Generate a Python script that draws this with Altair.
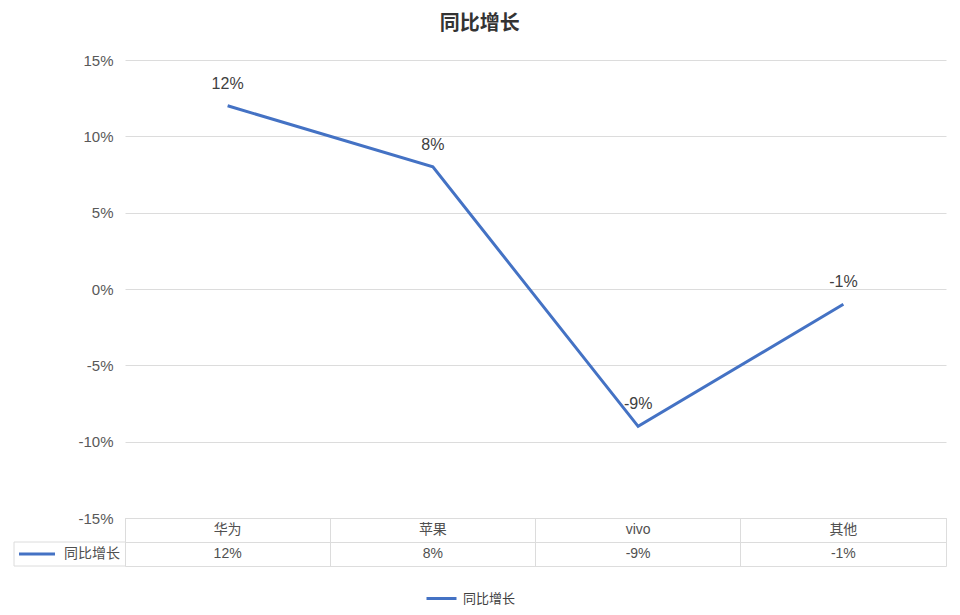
import altair as alt
import pandas as pd

categories = ["华为", "苹果", "vivo", "其他"]
values = [0.12, 0.08, -0.09, -0.01]
value_labels = ["12%", "8%", "-9%", "-1%"]
series_name = "同比增长"
y_ticks = [-0.15, -0.10, -0.05, 0.0, 0.05, 0.10, 0.15]

BLUE = "#4472c4"
FONT = "Liberation Sans, Noto Sans CJK SC"
GRID = "#dcdcdc"

df = pd.DataFrame({"cat": categories, "val": values, "lab": value_labels,
                   "series": [series_name] * len(categories)})

W = 821
base = alt.Chart(df).encode(
    x=alt.X("cat:N", sort=categories, axis=None),
    y=alt.Y("val:Q", scale=alt.Scale(domain=[-0.15, 0.15], nice=False),
            axis=alt.Axis(values=y_ticks, format=".0%", title=None, domain=False,
                          labelExpr="replace(datum.label, '\u2212', '-')",
                          ticks=False, labelFontSize=15, labelColor="#595959",
                          labelPadding=12, gridColor=GRID, labelFont=FONT)),
)
line = base.mark_line(strokeWidth=3).encode(
    color=alt.Color("series:N", scale=alt.Scale(range=[BLUE]),
                    legend=alt.Legend(title=None, orient="none", legendX=300, legendY=522,
                                      symbolType="stroke", symbolStrokeWidth=3,
                                      symbolSize=900, labelFontSize=13, labelFont=FONT,
                                      labelOffset=5, labelColor="#404040"))
)
labels = base.mark_text(dy=-22, fontSize=16, color="#404040", font=FONT).encode(text="lab:N")
top = (line + labels).properties(width=W, height=458,
                                 view=alt.ViewBackground(stroke="transparent"))

# data table
rows = []
for c, l in zip(categories, value_labels):
    rows.append({"cat": c, "row": "a", "txt": c})
    rows.append({"cat": c, "row": "b", "txt": l})
tdf = pd.DataFrame(rows)
tx = alt.X("cat:N", sort=categories, bandPosition=0.5,
           scale=alt.Scale(type="band", paddingInner=0, paddingOuter=0),
           axis=alt.Axis(labels=False, ticks=False, domain=False, grid=True,
                         bandPosition=0, gridColor=GRID, title=None))
ty = alt.Y("row:N", sort=["a", "b"], bandPosition=0.5,
           scale=alt.Scale(type="band", paddingInner=0, paddingOuter=0),
           axis=alt.Axis(labels=False, ticks=False, domain=False, grid=True,
                         bandPosition=0, gridColor=GRID, title=None))
ttext = alt.Chart(tdf).mark_text(fontSize=14, color="#505050", font=FONT,
                                 baseline="middle").encode(x=tx, y=ty, text="txt:N")

one = alt.Chart(pd.DataFrame({"k": [series_name]}))
h1 = one.mark_rule(color=GRID).encode(x=alt.value(-111), x2=alt.value(0), y=alt.value(24))
h2 = one.mark_rule(color=GRID).encode(x=alt.value(-111), x2=alt.value(0), y=alt.value(48))
v1 = one.mark_rule(color=GRID).encode(x=alt.value(-111), y=alt.value(24), y2=alt.value(48))
sw = one.mark_rule(color=BLUE, strokeWidth=3).encode(x=alt.value(-106), x2=alt.value(-70), y=alt.value(36))
st = one.mark_text(align="right", baseline="middle", fontSize=14, color="#505050",
                   font=FONT).encode(x=alt.value(-5), y=alt.value(36), text="k:N")
table = (ttext + h1 + h2 + v1 + sw + st).properties(width=W, height=48)

chart = alt.vconcat(top, table, spacing=0, bounds="flush").resolve_scale(color="shared").properties(
    title=alt.TitleParams(series_name, fontSize=20, fontWeight="bold", color="#333333",
                          anchor="middle", font="Noto Sans CJK SC", offset=19),
).configure_view(stroke=GRID).configure(background="white")

chart.save("out.html", embed_options={"renderer": "svg", "actions": False})
